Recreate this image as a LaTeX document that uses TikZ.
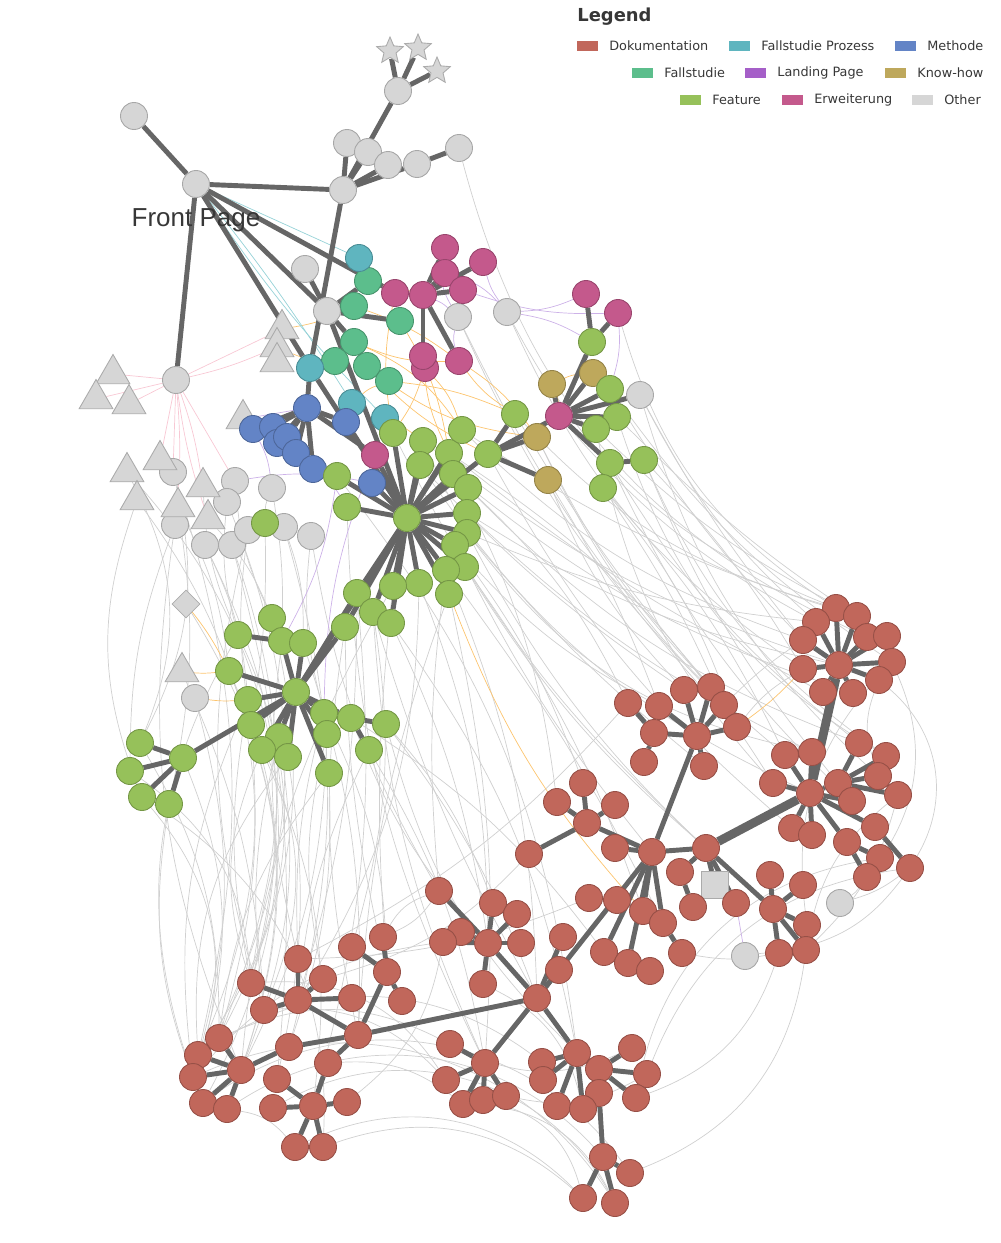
\documentclass[tikz,border=0pt]{standalone}
\usepackage{fontspec}
\setmainfont{DejaVu Sans}
\newfontfamily\frontfont{Liberation Sans}
\usepackage{tikz}
\usetikzlibrary{shapes.geometric}
\definecolor{DokuRot}{RGB}{193,103,91}
\definecolor{ProzessTuerkis}{RGB}{95,181,191}
\definecolor{MethodeBlau}{RGB}{99,132,198}
\definecolor{FallGruen}{RGB}{92,190,140}
\definecolor{LandingLila}{RGB}{165,95,200}
\definecolor{KnowGold}{RGB}{190,168,92}
\definecolor{FeatureGruen}{RGB}{150,193,90}
\definecolor{ErwPink}{RGB}{196,89,140}
\definecolor{OtherGrau}{RGB}{214,214,214}
\definecolor{LinkGrau}{RGB}{102,102,102}
\definecolor{FadeGrau}{RGB}{208,208,208}
\definecolor{OrangeLink}{RGB}{252,196,110}
\definecolor{RosaLink}{RGB}{248,200,212}
\definecolor{LilaLink}{RGB}{205,178,232}
\definecolor{TuerkisLink}{RGB}{150,210,215}
\definecolor{TextGrau}{RGB}{55,55,55}
\pgfdeclarelayer{bg}
\pgfsetlayers{bg,main}
\tikzset{
  knot/.style={circle,inner sep=0pt,minimum size=0.54cm,fill=#1,draw=#1!78!black,line width=0.5pt},
  tri/.style={regular polygon,regular polygon sides=3,inner sep=0pt,minimum size=0.78cm,fill=OtherGrau,draw=OtherGrau!80!black,line width=0.5pt},
  staro/.style={star,star points=5,star point ratio=2.2,inner sep=0pt,minimum size=0.56cm,fill=OtherGrau,draw=OtherGrau!80!black,line width=0.5pt},
  link/.style={LinkGrau,line width=2.8pt},
  biglink/.style={LinkGrau,line width=5pt},
  faint/.style={#1,line width=0.4pt},
  legtext/.style={anchor=west,text=TextGrau,font=\fontsize{7.3}{8}\selectfont,inner sep=0pt}
}

\begin{document}
\begin{tikzpicture}[x=0.02cm,y=-0.02cm]
  \useasboundingbox (0,0) rectangle (1000,1243);
  % other
  \foreach \n/\x/\y in {o1/134/116,fp/196/184,o2/176/380,o3/343/190,o4/347/143,o5/368/152,o6/388/165,
    o7/417/164,o8/459/148,o9/398/91,o10/305/269,o11/327/311,o12/458/317,o13/507/312,o14/640/395,
    o15/173/472,o16/235/481,o17/227/502,o18/272/488,o19/175/525,o20/205/545,o21/232/545,o22/248/530,
    o23/284/527,o24/311/536,o25/195/698,o26/840/903,o27/745/956}
    \node[knot=OtherGrau] (\n) at (\x,\y) {};
  \foreach \n/\x/\y in {tr1/282/329,tr2/277/347,tr3/277/362,tr4/113/374,tr5/96/399,tr6/129/404,tr7/243/419,
    tr8/160/460,tr9/127/472,tr10/203/487,tr11/137/500,tr12/178/507,tr13/208/519,tr14/182/672}
    \node[tri] (\n) at (\x,\y) {};
  \foreach \n/\x/\y in {s1/390/51,s2/418/48,s3/437/71}
    \node[staro] (\n) at (\x,\y) {};
  \node[diamond,inner sep=0pt,minimum size=0.56cm,fill=OtherGrau,draw=OtherGrau!80!black] (dm) at (186,604) {};
  \node[rectangle,inner sep=0pt,minimum size=0.54cm,fill=OtherGrau,draw=OtherGrau!80!black] (sq) at (715,885) {};
  % fallstudie, prozess, methode
  \foreach \n/\x/\y in {f1/368/281,f2/354/306,f3/400/321,f4/354/342,f5/335/361,f6/367/366,f7/389/381}
    \node[knot=FallGruen] (\n) at (\x,\y) {};
  \foreach \n/\x/\y in {t1/359/258,t2/310/368,t3/352/403,t4/385/418}
    \node[knot=ProzessTuerkis] (\n) at (\x,\y) {};
  \foreach \n/\x/\y in {m2/253/429,m3/273/427,m5/277/443,m4/287/437,m6/296/453,m7/313/469,m1/307/408,m8/346/422,m9/372/483}
    \node[knot=MethodeBlau] (\n) at (\x,\y) {};
  % erweiterung, know-how
  \foreach \n/\x/\y in {e1/395/293,e2/423/295,e3/445/248,e4/445/273,e5/483/262,e6/463/290,e7/425/368,e8/423/356,
    e9/459/361,e10/375/455,e11/586/294,e12/618/313,e13/559/416}
    \node[knot=ErwPink] (\n) at (\x,\y) {};
  \foreach \n/\x/\y in {k1/552/384,k2/593/373,k3/537/437,k4/548/480}
    \node[knot=KnowGold] (\n) at (\x,\y) {};
  % feature
  \foreach \n/\x/\y in {g1/407/518,a1/393/433,a2/423/441,a3/420/465,a4/449/453,a5/462/430,a6/453/474,a7/468/488,
    a8/467/513,a9/467/533,a10/455/545,a11/465/567,a12/446/570,a13/449/594,a14/419/583,a15/393/586,a16/357/593,
    a17/373/612,a18/391/623,a19/345/627,a20/337/476,a21/347/507,a22/265/523,g3/488/454,b1/515/414,
    c1/592/342,c2/610/389,c3/617/417,c4/596/429,c5/610/463,c6/644/460,c7/603/488,
    g2/296/692,d1/272/618,d2/238/635,d3/282/641,d4/303/643,d5/229/671,d6/248/700,d7/251/725,d8/279/737,
    d9/262/750,d10/288/757,d11/324/713,d12/351/718,d13/386/724,d14/327/734,d15/369/750,d16/329/773,
    g4/183/758,h1/140/743,h2/130/771,h3/142/797,h4/169/804}
    \node[knot=FeatureGruen] (\n) at (\x,\y) {};
  % dokumentation
  \foreach \n/\x/\y in {r1/839/665,r1a/836/608,r1b/816/622,r1c/857/616,r1d/803/640,r1e/867/637,r1f/887/636,
    r1g/892/662,r1h/803/669,r1i/823/692,r1j/853/693,r1k/879/680,
    r2/810/793,r2a/785/755,r2b/812/752,r2c/773/783,r2d/838/783,r2e/859/743,r2f/886/756,r2g/878/776,
    r2h/898/795,r2i/852/801,r2j/792/828,r2k/812/835,r2l/847/842,r2m/875/827,r2n/880/858,r2o/867/877,r2p/910/868,
    r3/697/736,r3a/684/690,r3b/711/687,r3c/724/705,r3d/737/727,r3e/659/706,r3f/628/703,r3g/654/733,
    r3h/644/762,r3i/704/766,
    r4/652/852,r4a/615/848,r4b/680/872,r4e/693/907,r5/706/848,r5a/736/903,
    r6/587/823,r6a/583/783,r6b/557/802,r6c/615/805,r6d/529/854,
    r7/773/909,r7a/770/875,r7b/803/885,r7c/807/925,r7d/779/953,r7e/806/950,
    n1/589/898,n2/617/900,n3/643/911,n4/663/923,n5/604/952,n6/628/963,n7/650/971,n8/682/953,n9/559/970,n10/563/937,
    q0/537/998,p0/488/943,p1/439/891,p2/493/903,p3/517/914,p4/461/932,p5/443/942,p6/521/943,p7/483/984,
    w0/358/1035,w1/328/1063,w2/289/1047,
    x0/298/1000,x1/298/959,x2/251/983,x3/323/979,x4/264/1010,x5/352/998,
    y0/387/972,y1/352/947,y2/383/937,y3/402/1001,
    z0/313/1106,z1/277/1079,z2/273/1108,z3/347/1102,z4/295/1147,z5/323/1147,
    j0/241/1070,j1/219/1038,j2/198/1055,j3/193/1077,j4/203/1103,j5/227/1109,
    u0/485/1063,u1/450/1044,u2/446/1080,u3/463/1104,u4/483/1100,u5/506/1096,
    v0/577/1053,v1/542/1062,v2/543/1080,v3/599/1069,v4/632/1048,v5/647/1074,v6/636/1098,v7/599/1093,
    v8/557/1106,v9/583/1109,v10/603/1157,v11/630/1173,v12/583/1198,v13/615/1203}
    \node[knot=DokuRot] (\n) at (\x,\y) {};

  \begin{pgfonlayer}{bg}
    % faint links
    \foreach \a/\b/\c in {a8/r1/-10,a9/r1b/-8,a5/r1d/-12,a7/r3f/10,b1/r1a/-15,c7/r2a/8,c5/r2e/-10,c6/r1h/6,
      o14/r1d/-5,a4/r2c/12,a11/n3/8,a12/q0/10,a13/w0/-8,a14/x0/15,a15/j0/-12,a16/z0/10,a17/u0/-10,a18/p0/8,
      a19/y0/-6,d16/w2/10,d15/x0/-10,d14/j0/12,d13/v0/-15,d12/n5/10,d10/j2/-20,d9/z0/15,d8/x4/-10,g4/j3/20,
      h4/j4/-15,h2/x2/25,d7/j1/10,d6/x2/-10,d5/j0/20,d2/j2/30,o25/j3/15,dm/j0/25,tr14/x4/10,o19/h2/-10,
      o20/d6/10,o22/d7/-8,a10/r3e/-10,a3/r2/-15,a6/r6b/10,c4/r1c/-8,c3/r1f/-6,c2/r1g/-10,k4/r3e/5,k3/r3b/-8,
      a1/r5/-10,a2/r7/-12,a20/v0/15,a21/u0/-12,g3/r2j/-10,o13/r1a/-20,o8/r1e/-25,o12/r3c/-10,a22/o18/10,
      o15/h1/20,o17/d2/-10,tr12/d5/10,o21/j1/20,o24/p1/-10,o23/w2/15,tr9/h1/25,tr11/j2/30,
      j3/v13/40,z4/v12/35,x2/u2/30,j4/v11/45,r2p/v5/-30,r1g/r7c/-25,r2h/r7e/-20,h3/z5/30,j5/v10/40,
      p7/v9/25,u3/v13/30,r2n/v6/-35,r1k/r2h/-30,r3f/x1/10,p1/y2/-20,r6d/x3/15,o26/r2o/-10,
      c6/r2f/-15,c7/r3d/10,a9/r2b/-20,a10/r6a/8,a12/p1/-6,a17/y1/12,d11/x1/-8,d13/p2/10,o14/r1b/-10,
      a5/r1c/-8,a4/r1i/-6,a6/r1j/-10,a7/r2e/-12,a8/r2b/-8,a3/r3a/-6,a2/r1/-10,c4/r2c/-15,c5/r2i/-10,
      c7/r3c/5,c6/r2d/-8,b1/r3b/-5,k4/r3a/-10,k3/r2a/-12,e13/r1b/-10,c2/r1d/-6,c3/r2f/-20,o14/r2g/-15,
      e12/r1a/-20,o13/r1h/-15,o12/r3d/-8,a9/r3i/-5,a10/r4/-6,a11/r5/-8,a12/n4/5,a14/p0/10,a15/y0/-5,
      a16/x0/8,a17/q0/-6,a18/v0/12,a19/w0/-10,a13/u0/8,d11/y0/12,d12/p0/-10,d13/q0/8,d14/x3/-12,
      d15/u0/10,d16/j1/-15,d10/z1/10,d9/x2/-20,d8/j0/15,d7/x4/25,d6/j3/-15,d5/x2/20,d4/w0/10,d3/x1/-10,
      d1/j1/20,d2/j4/-25,h1/j1/15,h3/j3/30,o15/j2/15,o19/j0/-15,o20/x2/20,o21/z1/10,o22/x4/-15,o17/j3/25,
      tr9/j4/35,tr11/h3/-20,tr12/h4/10,tr10/d2/-10,tr13/d1/10,o16/d1/-10,o18/d3/5,o23/d4/10,o24/d11/-10,
      a22/d7/5,j1/u1/25,j2/v1/35,j3/p5/20,x4/u2/25,z2/v13/45,z5/v12/30,w1/u3/20,x1/n1/-10,y2/p1/-15,
      p5/z3/20,u1/v4/-25,u5/v5/-20,v6/r7d/-25,r7d/r2p/-20,r2o/r1g/-30,r2p/r1k/-40,r3d/r1h/10,r3c/r1d/5,
      r7e/r2h/-15,o26/r2p/-10,o27/r7d/5,v11/r7e/-30,n8/r7d/-10,u4/v12/30,j5/z4/20}
      \draw[faint=FadeGrau] (\a) to[bend left=\c] (\b);
    \foreach \a/\b/\c in {f3/a4/10,f4/a5/15,f6/g3/-10,f7/b1/8,e8/a4/-10,e9/k3/10,t4/a2/5,e7/a5/12,f1/e6/-10,
      f2/e9/8,t3/f7/10,e1/a1/-10,f5/tr2/10,c1/e11/5,s1/o9/5,s2/o9/-5,s3/o9/5,d5/tr14/5,d5/dm/-5,d6/o25/5,
      a13/n3/-10,r1h/r3d/5,k1/k2/10,e13/k1/-10,f6/k3/-15,f2/tr1/8,e9/b1/-10,d12/d14/10,e7/a1/8,f4/e9/-12}
      \draw[faint=OrangeLink] (\a) to[bend left=\c] (\b);
    \foreach \a/\b/\c in {o2/tr4/0,o2/tr5/0,o2/tr6/0,o2/tr1/0,o2/o15/0,o2/o19/5,o2/tr8/0,o2/tr2/-5,o2/tr10/5,
      o2/tr13/-5,o2/o16/0}
      \draw[faint=RosaLink] (\a) to[bend left=\c] (\b);
    \foreach \a/\b/\c in {e2/o12/10,e5/o13/-10,e11/o13/10,e12/c2/10,m2/o18/10,m7/a21/10,e10/d11/-10,a20/d3/10,
      e3/o12/-20,e4/o13/15,m1/tr7/0,o13/c1/10,r5a/o27/0,m9/o16/-10,e6/e12/-10,e9/o12/15}
      \draw[faint=LilaLink] (\a) to[bend left=\c] (\b);
    \foreach \a/\b/\c in {fp/t1/0,fp/t3/3,fp/t4/-5}
      \draw[faint=TuerkisLink] (\a) to[bend left=\c] (\b);
    % strong links
    \foreach \a/\b in {o1/fp,fp/o3,fp/o2,fp/o11,fp/t2,fp/e1,o3/o4,o3/o5,o3/o6,o3/o7,o3/o9,o3/t2,o7/o8,
      o9/s1,o9/s2,o9/s3,o10/o11,o11/f1,o11/f2,o11/f3,o11/f4,t1/f1,f4/f6,f5/t2,o11/g1,f6/f7,
      e2/e1,e2/e3,e2/e4,e2/e5,e2/e6,e2/e8,e2/e9,e8/e7,
      m1/t2,m1/m2,m1/m3,m1/m4,m1/m5,m1/m6,m1/m7,m1/m8,m1/e10,m8/g1,e10/g1,m9/g1,t2/g1,
      g1/a1,g1/a2,g1/a3,g1/a4,g1/a5,g1/a6,g1/a7,g1/a8,g1/a9,g1/a10,g1/a11,g1/a12,g1/a13,g1/a14,g1/a15,
      g1/a16,g1/a17,g1/a18,g1/a19,g1/a20,g1/a21,g1/g3,g1/g2,
      g3/b1,g3/k3,g3/k4,g3/e13,e13/c1,e13/k1,e13/k2,e13/c2,e13/o14,e13/c3,e13/c4,e13/c5,c1/e11,c1/e12,c5/c6,
      g2/d3,g2/d4,g2/a19,g2/a16,g2/d5,g2/d6,g2/d7,g2/d8,g2/d9,g2/d10,g2/d11,g2/d12,g2/d14,g2/d16,g2/g4,
      d1/d3,d2/d3,d12/d13,d12/d15,g4/h1,g4/h2,g4/h3,g4/h4,
      r1/r1a,r1/r1b,r1/r1c,r1/r1d,r1/r1e,r1/r1f,r1/r1g,r1/r1h,r1/r1i,r1/r1j,r1/r1k,
      r2/r2a,r2/r2b,r2/r2c,r2/r2d,r2/r2i,r2/r2j,r2/r2k,r2/r2l,r2/r2m,r2d/r2e,r2d/r2f,r2d/r2g,r2d/r2h,
      r2l/r2o,r2l/r2n,r2m/r2p,
      r3/r3a,r3/r3b,r3/r3c,r3/r3d,r3/r3e,r3/r3g,r3/r3i,r3f/r3g,r3g/r3h,r3/r4,
      r4/r5,r5/r4b,r5/sq,r5/r7,r5/r5a,r4b/r4e,r7/r7a,r7/r7b,r7/r7c,r7/r7d,r7/r7e,
      r6/r6a,r6/r6b,r6/r6c,r6/r6d,r6/r4,r4/r4a,r4/n3,r4/n4,r4/n5,r4/n6,r4/q0,n1/n2,n2/n3,n4/n8,n5/n7,
      q0/n9,q0/n10,q0/p0,q0/w0,q0/u0,q0/v0,
      p0/p1,p0/p2,p0/p3,p0/p4,p0/p5,p0/p6,p0/p7,
      w0/x0,w0/y0,w0/w1,w0/w2,w1/z0,w2/j0,
      x0/x1,x0/x2,x0/x3,x0/x4,x0/x5,y0/y1,y0/y2,y0/y3,
      z0/z1,z0/z2,z0/z3,z0/z4,z0/z5,j0/j1,j0/j2,j0/j3,j0/j4,j0/j5,
      u0/u1,u0/u2,u0/u3,u0/u4,u0/u5,
      v0/v1,v0/v2,v0/v3,v0/v8,v0/v9,v3/v4,v3/v5,v3/v6,v3/v7,v7/v10,v10/v11,v10/v12,v10/v13}
      \draw[link] (\a) -- (\b);
    \draw[biglink] (r1) -- (r2);
    \draw[biglink] (r2) -- (r5);
  \end{pgfonlayer}

  \node[text=TextGrau,font=\frontfont\fontsize{14.8}{16}\selectfont] (fptext) at (196,220) {Front Page};

  % legend
  \node[anchor=west,text=TextGrau,font=\bfseries\fontsize{10.2}{12}\selectfont,inner sep=0pt] (leghead) at (577,17) {Legend};
  \foreach \c/\x/\y/\t/\n in {DokuRot/577/46/Dokumentation/lg1,ProzessTuerkis/729/46/Fallstudie Prozess/lg2,
    MethodeBlau/895/46/Methode/lg3,FallGruen/632/73/Fallstudie/lg4,LandingLila/745/73/Landing Page/lg5,
    KnowGold/885/73/Know-how/lg6,FeatureGruen/680/100/Feature/lg7,ErwPink/782/100/Erweiterung/lg8,
    OtherGrau/912/100/Other/lg9}
  {
    \fill[\c] (\x,\y-5) rectangle ++(21,10);
    \node[legtext] (\n) at (\x+32,\y) {\t};
  }
\end{tikzpicture}
\end{document}
